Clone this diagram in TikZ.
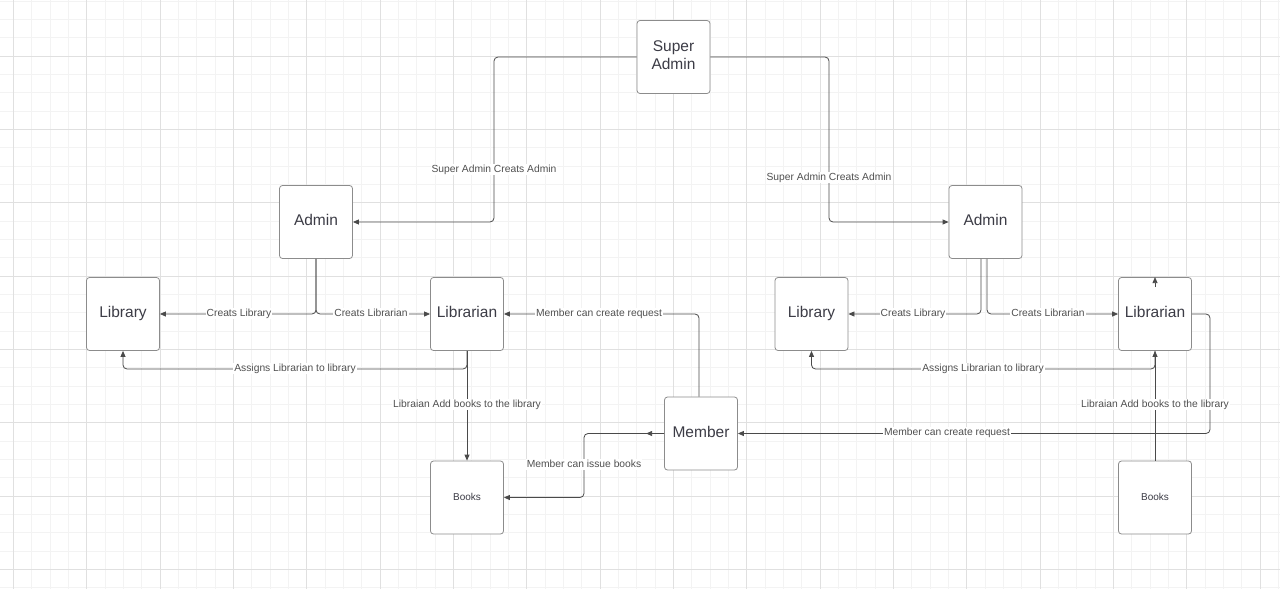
\documentclass[tikz,border=0pt]{standalone}
\usepackage{fontspec}
\setmainfont{Liberation Sans}
\usetikzlibrary{arrows.meta,decorations.markings}
\definecolor{minorg}{HTML}{F3F3F3}
\definecolor{majorg}{HTML}{E0E0E0}
\definecolor{linec}{HTML}{4A4A4A}
\definecolor{boxc}{HTML}{8C8C8C}
\definecolor{boxtext}{HTML}{3C3C46}
\definecolor{labtext}{HTML}{505050}
\tikzset{
  box/.style={draw=boxc, line width=0.8pt, fill=white, rounded corners=3pt,
    minimum width=73pt, minimum height=73pt, inner sep=0pt,
    text=boxtext, font=\fontsize{15.5}{18.5}\selectfont, align=center},
  onebox/.style={box, text height=11pt, text depth=4pt},
  smallbox/.style={box, font=\fontsize{10}{12}\selectfont, text height=7pt, text depth=1pt},
  conn/.style={draw=linec, line width=0.8pt, rounded corners=4pt,
    -{Triangle[length=6pt,width=5pt]}},
  lab/.style={fill=white, inner xsep=1pt, inner ysep=1.5pt, text=labtext,
    font=\fontsize{10.3}{12}\selectfont, text height=7.5pt, text depth=0.5pt},
  minorgrid/.style={draw=minorg, line width=0.6pt},
  majorgrid/.style={draw=majorg, line width=0.6pt}
}
\begin{document}
\begin{tikzpicture}[x=1pt,y=-1pt]
\useasboundingbox (0,0) rectangle (1280,589);
\fill[white] (0,0) rectangle (1280,589);
% grid
\foreach \i in {-1,...,69} \draw[minorgrid] ({13.33+18.333*\i},0) -- ({13.33+18.333*\i},589);
\foreach \i in {-3,...,29} \draw[minorgrid] (0,{56+18.333*\i}) -- (1280,{56+18.333*\i});
\foreach \i in {0,...,17} \draw[majorgrid] ({13.33+73.33*\i},0) -- ({13.33+73.33*\i},589);
\foreach \i in {0,...,7} \draw[majorgrid] (0,{56+73.33*\i}) -- (1280,{56+73.33*\i});

% nodes
\node[box] (sa) at (673.5,57) {\raisebox{1.5pt}{\begin{tabular}{@{}c@{}}Super\\Admin\end{tabular}}};
\node[onebox] (admL) at (316,222) {Admin};
\node[onebox] (admR) at (985.5,222) {Admin};
\node[onebox] (libL) at (123,314) {Library};
\node[onebox] (lbnL) at (467,314) {Librarian};
\node[smallbox] (bkL) at (467,497.5) {Books};
\node[onebox] (mem) at (701,433.5) {Member};
\node[onebox] (libR) at (811.5,314) {Library};
\node[onebox] (lbnR) at (1155,314) {Librarian};
\node[smallbox] (bkR) at (1155,497.5) {Books};

\coordinate (c1) at (494,140);
\coordinate (c2) at (829,140);
\coordinate (c3) at (295,369);
\coordinate (c4) at (927,369);
\coordinate (c5) at (584,470);
\coordinate (c6) at (1210,380);
\coordinate (stub) at (1155,287);

% connectors
\draw[conn] (sa.west) -| (c1) |- (admL.east);
\draw[conn] (sa.east) -| (c2) |- (admR.west);
\draw[conn] (admL.south) |- (libL.east);
\draw[conn] (admL.south) |- (lbnL.west);
\draw[conn] ([xshift=-4.5pt]admR.south) |- (libR.east);
\draw[conn] ([xshift=1.5pt]admR.south) |- (lbnR.west);
\draw[conn] (lbnL.south) |- (c3) -| (libL.south);
\draw[conn] (lbnR.south) |- (c4) -| (libR.south);
\draw[conn] (lbnL.south) -- (bkL.north);
\draw[conn] (bkR.north) -- (lbnR.south);
\draw[conn] ([xshift=-2pt]mem.north) |- (lbnL.east);
\draw[conn, postaction={decorate}, decoration={markings,
  mark=at position 18pt with {\arrow{Triangle[length=6pt,width=5pt]}}}]
  (mem.west) -| (c5) |- (bkL.east);
\draw[conn] (lbnR.east) -| (c6) |- (mem.east);
\draw[conn] (stub) -- (lbnR.north);

% labels
\node[lab] at (494,169) {Super Admin Creats Admin};
\node[lab] at (829,177) {Super Admin Creats Admin};
\node[lab] at (239,313) {Creats Library};
\node[lab] at (371,313) {Creats Librarian};
\node[lab] at (913,313) {Creats Library};
\node[lab] at (1048,313) {Creats Librarian};
\node[lab] at (295,368) {Assigns Librarian to library};
\node[lab] at (983,368) {Assigns Librarian to library};
\node[lab] at (467,404) {Libraian Add books to the library};
\node[lab] at (1155,404) {Libraian Add books to the library};
\node[lab] at (599,313) {Member can create request};
\node[lab] at (584,464) {Member can issue books};
\node[lab] at (947,432) {Member can create request};
\end{tikzpicture}
\end{document}
